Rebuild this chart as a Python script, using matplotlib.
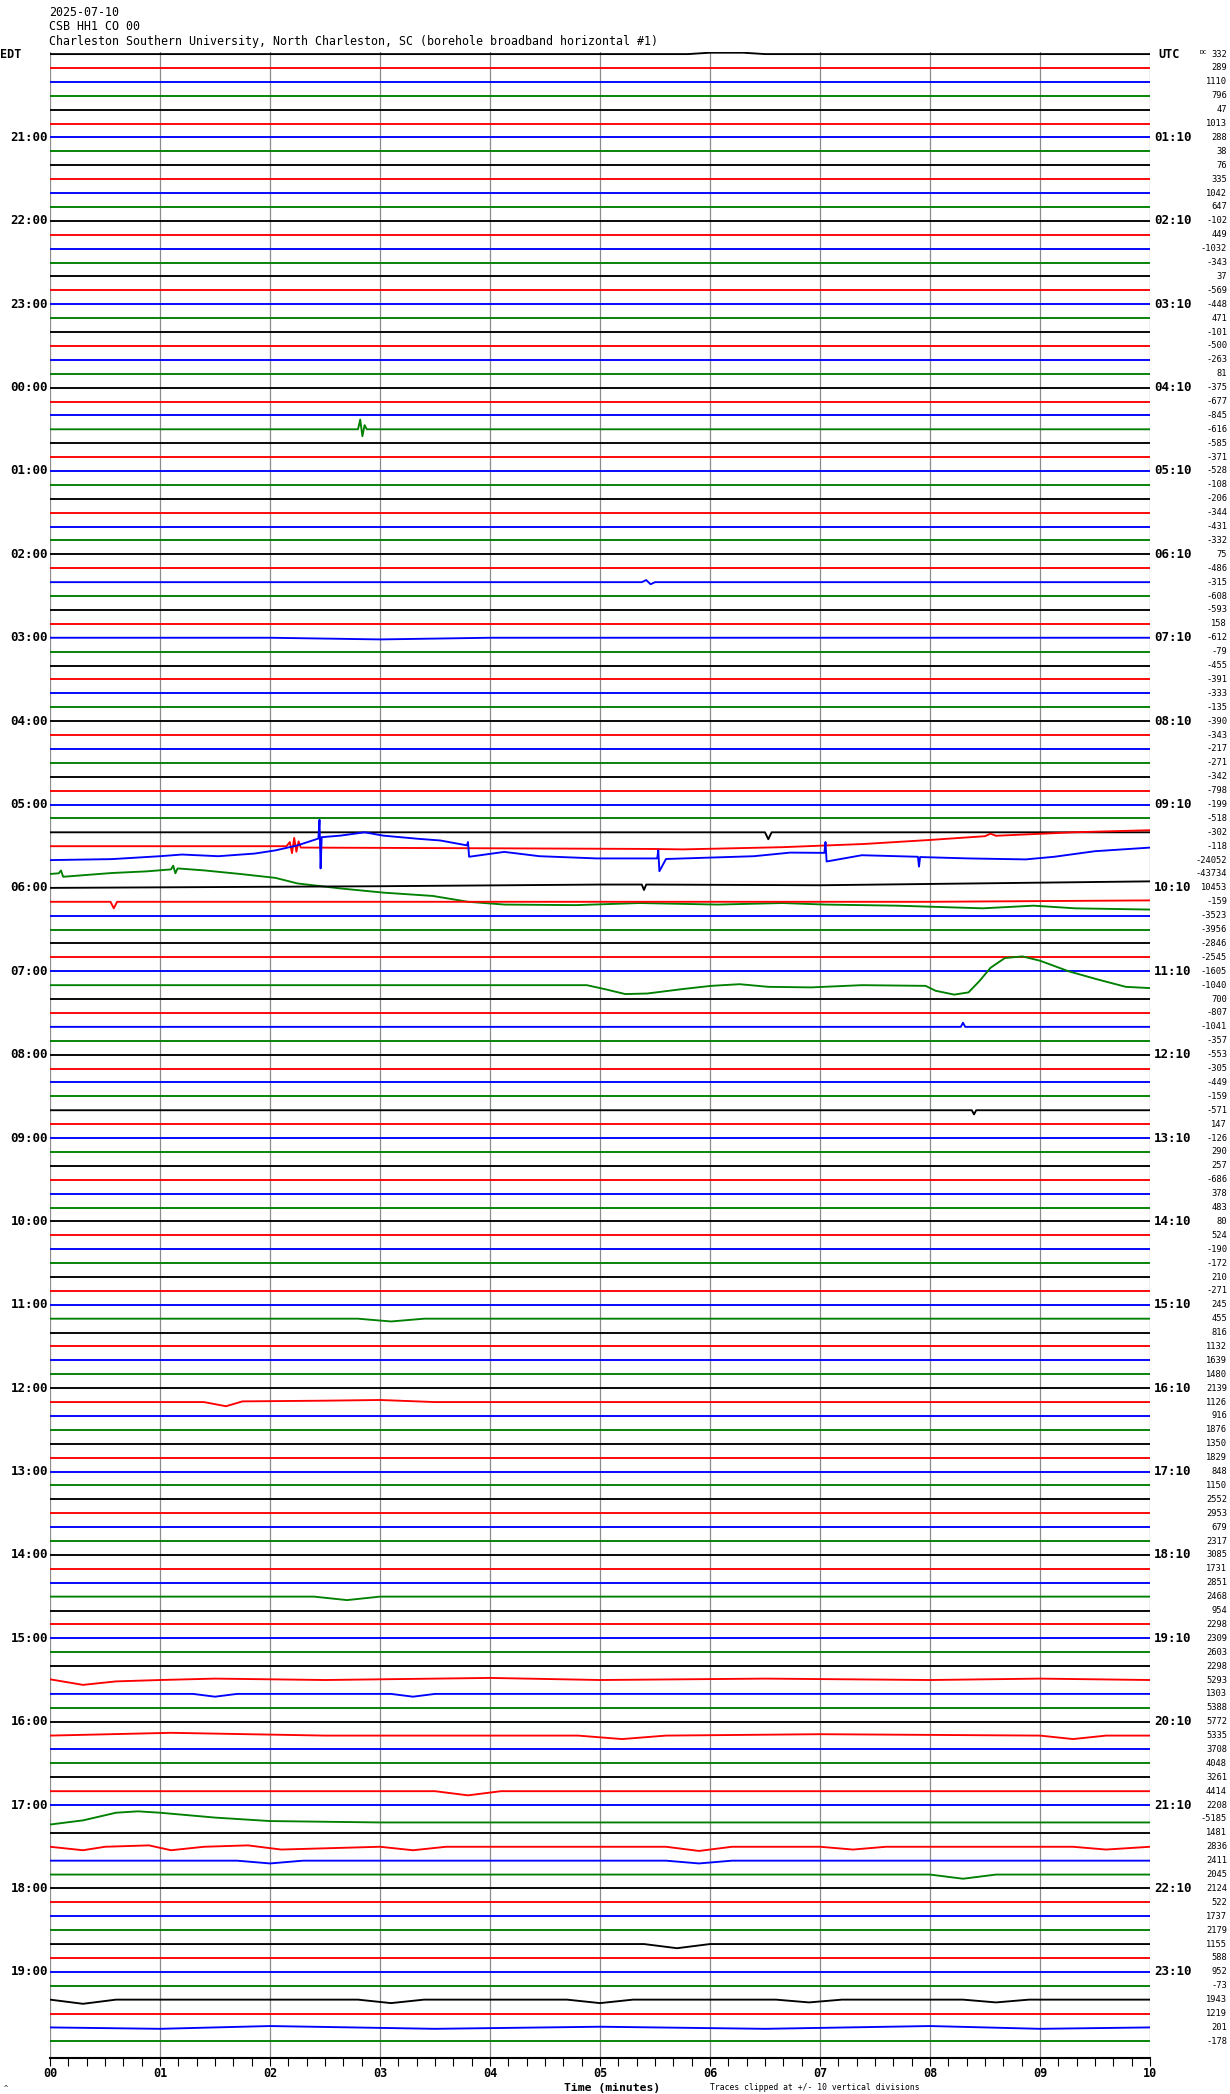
import matplotlib.pyplot as plt
from matplotlib.ticker import MultipleLocator
from matplotlib.transforms import blended_transform_factory

# header text
date_line = '2025-07-10'
station_line = 'CSB HH1 CO 00'
site_line = 'Charleston Southern University, North Charleston, SC (borehole broadband horizontal #1)'

# one trace per 10 minutes, 20:00 EDT .. 19:50 EDT
n_rows = 144
edt_labels = ['21:00', '22:00', '23:00', '00:00', '01:00', '02:00', '03:00', '04:00',
              '05:00', '06:00', '07:00', '08:00', '09:00', '10:00', '11:00', '12:00',
              '13:00', '14:00', '15:00', '16:00', '17:00', '18:00', '19:00']
utc_labels = ['01:10', '02:10', '03:10', '04:10', '05:10', '06:10', '07:10', '08:10',
              '09:10', '10:10', '11:10', '12:10', '13:10', '14:10', '15:10', '16:10',
              '17:10', '18:10', '19:10', '20:10', '21:10', '22:10', '23:10']

# DC offset printed at the right of every trace
dc_offsets = [
    332, 289, 1110, 796, 47, 1013,
    288, 38, 76, 335, 1042, 647,
    -102, 449, -1032, -343, 37, -569,
    -448, 471, -101, -500, -263, 81,
    -375, -677, -845, -616, -585, -371,
    -528, -108, -206, -344, -431, -332,
    75, -486, -315, -608, -593, 158,
    -612, -79, -455, -391, -333, -135,
    -390, -343, -217, -271, -342, -798,
    -199, -518, -302, -118, -24052, -43734,
    10453, -159, -3523, -3956, -2846, -2545,
    -1605, -1040, 700, -807, -1041, -357,
    -553, -305, -449, -159, -571, 147,
    -126, 290, 257, -686, 378, 483,
    80, 524, -190, -172, 210, -271,
    245, 455, 816, 1132, 1639, 1480,
    2139, 1126, 916, 1876, 1350, 1829,
    848, 1150, 2552, 2953, 679, 2317,
    3085, 1731, 2851, 2468, 954, 2298,
    2309, 2603, 2298, 5293, 1303, 5388,
    5772, 5335, 3708, 4048, 3261, 4414,
    2208, -5185, 1481, 2836, 2411, 2045,
    2124, 522, 1737, 2179, 1155, 588,
    952, -73, 1943, 1219, 201, -178,
]
trace_colors = ['black', 'red', 'blue', '#008000']

# visible trace shapes: minute, deflection (in trace spacings, up = +)
row0_min = [0, 5.8, 6.0, 6.3, 6.5, 10]
row0_val = [0, 0, 0.1, 0.1, 0, 0]

row27_min = [0, 2.80, 2.82, 2.84, 2.86, 2.88, 10]
row27_val = [0, 0, 0.7, -0.5, 0.3, 0, 0]

row38_min = [0, 5.38, 5.42, 5.46, 5.50, 10]
row38_val = [0, 0, 0.15, -0.15, 0, 0]

row42_min = [0, 2.0, 3.0, 4.0, 10]
row42_val = [0, 0, -0.12, 0, 0]

row56_min = [0, 6.50, 6.53, 6.56, 10]
row56_val = [0, 0, -0.5, 0, 0]

row57_min = [0, 2.15, 2.18, 2.20, 2.22, 2.24, 2.26, 2.28, 2.30, 4.0, 5.5, 5.75, 6.66,
             7.4, 8.0, 8.5, 8.55, 8.6, 9.3, 10]
row57_val = [0, 0, 0.3, -0.5, 0.6, -0.4, 0.35, -0.1, -0.1, -0.15, -0.2, -0.23, -0.07,
             0.16, 0.45, 0.72, 0.9, 0.75, 1.0, 1.15]

row58_min = [0, 0.56, 1.0, 1.2, 1.53, 1.86, 2.05, 2.25, 2.44, 2.45, 2.46, 2.47, 2.64,
             2.86, 3.03, 3.35, 3.55, 3.79, 3.80, 3.81, 4.13, 4.45, 4.97, 5.52, 5.53,
             5.54, 5.6, 6.4, 6.73, 7.04, 7.05, 7.06, 7.38, 7.89, 7.9, 7.91, 8.35, 8.87,
             9.13, 9.5, 10]
row58_val = [0, 0.07, 0.28, 0.4, 0.28, 0.47, 0.7, 1.06, 1.55, 2.9, -0.6, 1.65, 1.76,
             2.0, 1.76, 1.53, 1.41, 1.06, 1.3, 0.24, 0.59, 0.28, 0.12, 0.12, 0.7,
             -0.8, 0.08, 0.28, 0.54, 0.52, 1.3, -0.1, 0.35, 0.24, -0.47, 0.22, 0.12, 0.05,
             0.24, 0.64, 0.9]

row59_min = [0, 0.08, 0.1, 0.12, 0.56, 0.88, 1.10, 1.12, 1.14, 1.16, 1.4, 1.73, 2.05,
             2.25, 2.64, 3.03, 3.48, 3.8, 4.13, 4.78, 5.36, 6.07, 6.66, 7.05, 7.7,
             8.48, 8.94, 9.32, 10]
row59_val = [0, 0.05, 0.25, -0.2, 0.07, 0.19, 0.33, 0.6, 0.05, 0.4, 0.26, 0, -0.28,
             -0.68, -1.04, -1.34, -1.58, -2.0, -2.2, -2.24, -2.09, -2.2, -2.09, -2.2, -2.28,
             -2.47, -2.28, -2.47, -2.56]

row60_min = [0, 3.0, 5.0, 5.38, 5.4, 5.42, 7.0, 10]
row60_val = [0, 0.12, 0.24, 0.24, -0.15, 0.24, 0.19, 0.47]

row61_min = [0, 0.55, 0.58, 0.61, 8.0, 10]
row61_val = [0, 0, -0.47, 0, 0, 0.1]

row67_min = [0, 4.88, 5.04, 5.23, 5.43, 5.75, 6.01, 6.27, 6.53, 6.92, 7.38, 7.96, 8.05,
             8.22, 8.35, 8.45, 8.55, 8.68, 8.84, 9.0, 9.26, 9.52, 9.78, 10]
row67_val = [0, 0, -0.28, -0.64, -0.6, -0.28, -0.05, 0.07, -0.12, -0.16, 0, -0.05, -0.4,
             -0.68, -0.52, 0.3, 1.25, 1.95, 2.07, 1.76, 1.0, 0.42, -0.12, -0.21]

row70_min = [0, 8.28, 8.3, 8.32, 10]
row70_val = [0, 0, 0.3, 0, 0]

row76_min = [0, 8.38, 8.4, 8.42, 10]
row76_val = [0, 0, -0.3, 0, 0]

row91_min = [0, 2.8, 3.1, 3.4, 10]
row91_val = [0, 0, -0.2, 0, 0]

row97_min = [0, 1.4, 1.6, 1.75, 2.5, 3.0, 3.5, 10]
row97_val = [0, 0, -0.3, 0.05, 0.1, 0.15, 0, 0]

row111_min = [0, 2.4, 2.7, 3.0, 10]
row111_val = [0, 0, -0.25, 0, 0]

row117_min = [0, 0.3, 0.6, 1.0, 1.5, 2.5, 4.0, 5.0, 6.5, 8.0, 9.0, 10]
row117_val = [0.05, -0.35, -0.1, 0, 0.1, 0, 0.15, 0, 0.1, 0, 0.1, 0]

row118_min = [0, 1.3, 1.5, 1.7, 3.1, 3.3, 3.5, 10]
row118_val = [0, 0, -0.2, 0, 0, -0.2, 0, 0]

row121_min = [0, 1.1, 2.5, 4.8, 5.2, 5.6, 7.0, 9.0, 9.3, 9.6, 10]
row121_val = [0, 0.2, 0, 0, -0.25, 0, 0.1, 0, -0.25, 0, 0]

row125_min = [0, 3.5, 3.8, 4.1, 10]
row125_val = [0, 0, -0.3, 0, 0]

row127_min = [0, 0.3, 0.6, 0.8, 1.0, 1.5, 2.0, 3.0, 10]
row127_val = [-0.4, -0.1, 0.45, 0.55, 0.45, 0.1, -0.15, -0.25, -0.25]

row129_min = [0, 0.3, 0.5, 0.9, 1.1, 1.4, 1.8, 2.1, 3.0, 3.3, 3.6, 5.6, 5.9, 6.2, 7.0,
              7.3, 7.6, 9.3, 9.6, 10]
row129_val = [0, -0.25, 0, 0.1, -0.25, 0, 0.1, -0.2, 0, -0.25, 0, 0, -0.3, 0, 0,
              -0.2, 0, 0, -0.2, 0]

row130_min = [0, 1.7, 2.0, 2.3, 5.6, 5.9, 6.2, 10]
row130_val = [0, 0, -0.2, 0, 0, -0.2, 0, 0]

row131_min = [0, 8.0, 8.3, 8.6, 10]
row131_val = [0, 0, -0.3, 0, 0]

row136_min = [0, 5.4, 5.7, 6.0, 10]
row136_val = [0, 0, -0.3, 0, 0]

row140_min = [0, 0.3, 0.6, 2.8, 3.1, 3.4, 4.7, 5.0, 5.3, 6.6, 6.9, 7.2, 8.3, 8.6, 8.9, 10]
row140_val = [0, -0.3, 0, 0, -0.25, 0, 0, -0.25, 0, 0, -0.2, 0, 0, -0.2, 0, 0]

row142_min = [0, 1.0, 2.0, 3.5, 5.0, 6.5, 8.0, 9.0, 10]
row142_val = [0, -0.1, 0.1, -0.1, 0.05, -0.1, 0.1, -0.1, 0]

trace_shapes = {
    0: (row0_min, row0_val), 27: (row27_min, row27_val), 38: (row38_min, row38_val),
    42: (row42_min, row42_val), 56: (row56_min, row56_val), 57: (row57_min, row57_val),
    58: (row58_min, row58_val), 59: (row59_min, row59_val), 60: (row60_min, row60_val),
    61: (row61_min, row61_val), 67: (row67_min, row67_val), 70: (row70_min, row70_val),
    76: (row76_min, row76_val), 91: (row91_min, row91_val), 97: (row97_min, row97_val),
    111: (row111_min, row111_val), 117: (row117_min, row117_val),
    118: (row118_min, row118_val), 121: (row121_min, row121_val),
    125: (row125_min, row125_val), 127: (row127_min, row127_val),
    129: (row129_min, row129_val), 130: (row130_min, row130_val),
    131: (row131_min, row131_val), 136: (row136_min, row136_val),
    140: (row140_min, row140_val), 142: (row142_min, row142_val),
}

W, H = 1230, 2094
fig = plt.figure(figsize=(W / 100, H / 100), dpi=100)
ax = fig.add_axes([50 / W, 1 - 2058 / H, 1100 / W, (2058 - 52) / H])
mono = 'DejaVu Sans Mono'

for i in range(n_rows):
    xs, ds = trace_shapes.get(i, ([0, 10], [0, 0]))
    ax.plot(xs, [i - d for d in ds], color=trace_colors[i % 4], lw=1.35, zorder=3)

for m in range(11):
    ax.axvline(m, color='#8c8c8c', lw=0.9, zorder=1)

ax.set_xlim(0, 10)
ax.set_ylim(144.2, -0.15)
for s in ['top', 'left', 'right']:
    ax.spines[s].set_visible(False)
ax.spines['bottom'].set_linewidth(1.5)
ax.set_yticks([])
ax.set_xticks(range(11))
ax.set_xticklabels(['%02d' % m for m in range(11)], family=mono, weight='bold', fontsize=8.5)
ax.xaxis.set_minor_locator(MultipleLocator(1 / 6))
ax.tick_params(axis='x', which='both', direction='out', length=6.0, width=0.8, pad=0.5)

# left/right row labels
trans = blended_transform_factory(fig.transFigure, ax.transData)
ax.text(0 / W, 0, 'EDT', transform=trans, ha='left', va='center', family=mono,
        weight='bold', fontsize=8.5)
ax.text(1158 / W, 0, 'UTC', transform=trans, ha='left', va='center', family=mono,
        weight='bold', fontsize=8.5)
for k, (l, r) in enumerate(zip(edt_labels, utc_labels)):
    row = 6 * (k + 1)
    ax.text(48 / W, row, l, transform=trans, ha='right', va='center', family=mono,
            weight='bold', fontsize=9)
    ax.text(1154 / W, row, r, transform=trans, ha='left', va='center', family=mono,
            weight='bold', fontsize=9)
for i, v in enumerate(dc_offsets):
    ax.text(1227 / W, i, str(v), transform=trans, ha='right', va='center', family=mono,
            fontsize=6.3)
fig.text(1200 / W, 1 - 52 / H, 'DC', ha='left', va='center', family=mono, fontsize=4.5)

# header
for y, s in [(12, date_line), (26, station_line), (41, site_line)]:
    fig.text(49 / W, 1 - y / H, s, ha='left', va='center', family=mono, fontsize=8.4)

fig.text(612 / W, 1 - 2088 / H, 'Time (minutes)', ha='center', va='center', family=mono,
         weight='bold', fontsize=8.2)
fig.text(815 / W, 1 - 2088 / H, 'Traces clipped at +/- 10 vertical divisions', ha='center',
         va='center', family=mono, fontsize=5.8)
fig.text(4 / W, 1 - 2088 / H, '^', ha='left', va='center', family=mono, fontsize=5)

fig.savefig('out.png', dpi=100)
